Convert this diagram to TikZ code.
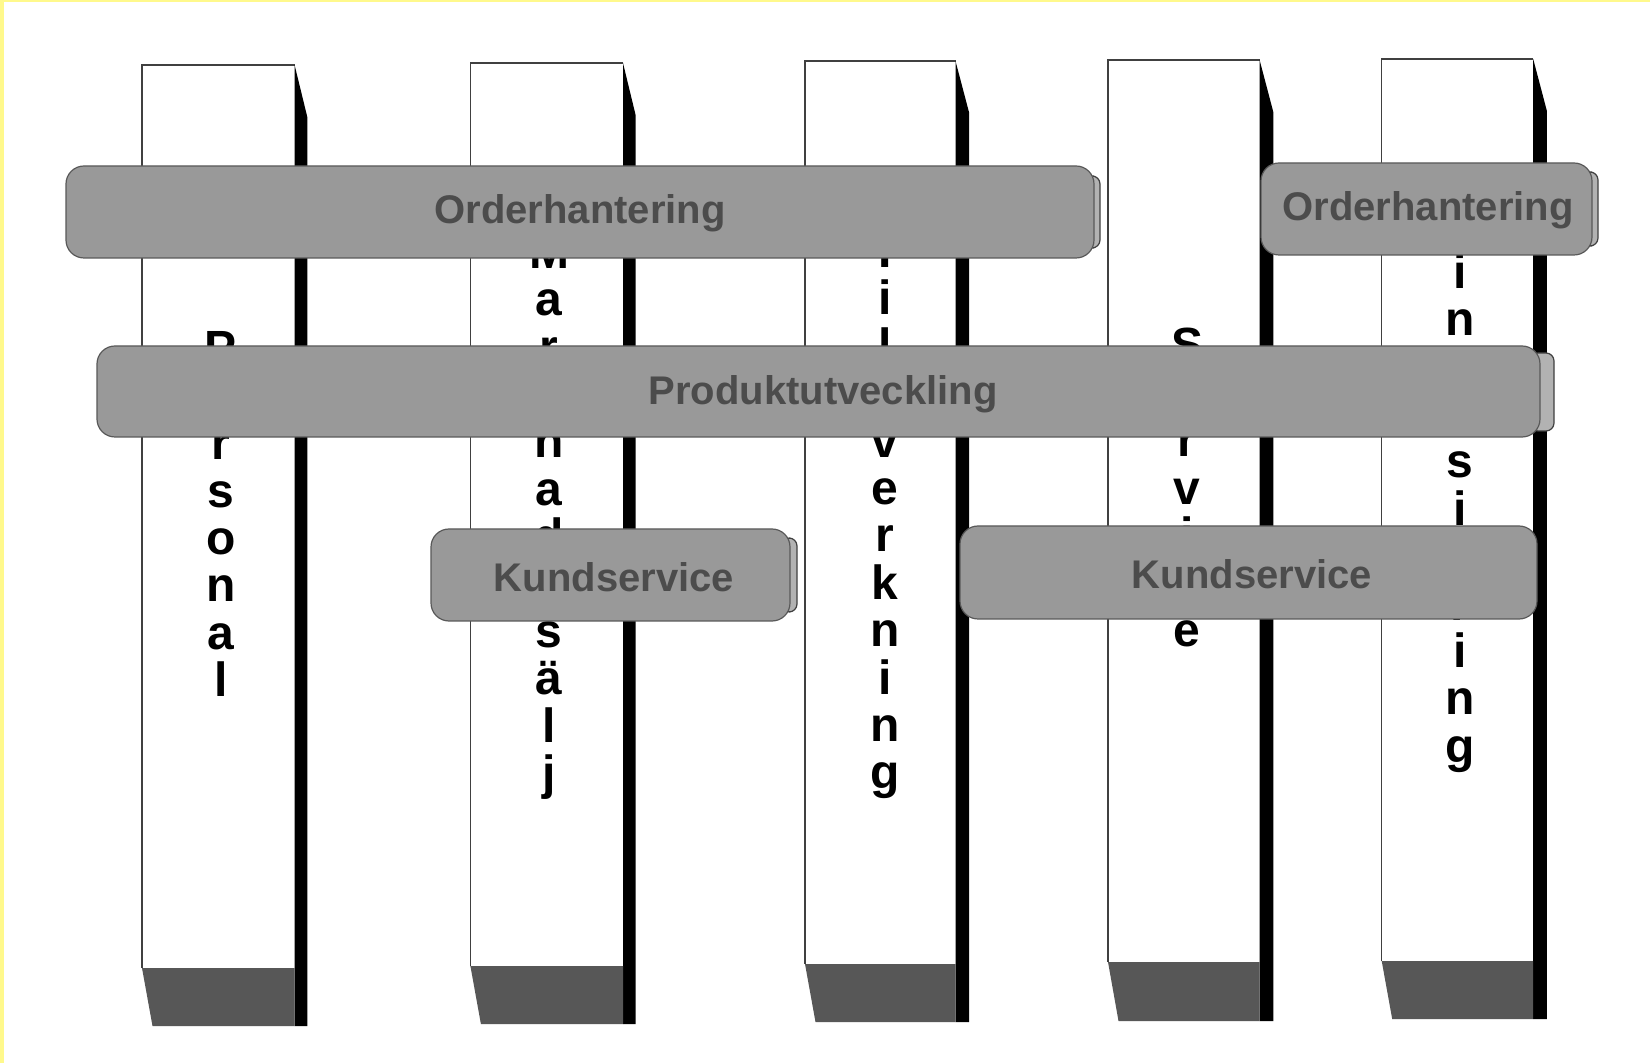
\documentclass[tikz,border=0pt]{standalone}
\usepackage{fontspec}
\setmainfont{Liberation Sans}
\begin{document}
\begin{tikzpicture}[x=0.5pt,y=-0.5pt,
  faceedge/.style={draw=black!75,line width=0.6pt},
  pillarside/.style={fill=black},
  pillarbase/.style={fill=black!66},
  band/.style={draw=black!65,line width=0.6pt,fill=black!40,rounded corners=9pt},
  bandcap/.style={draw=black!75,line width=0.6pt,fill=black!30,rounded corners=4pt},
  bandlabel/.style={font=\fontsize{20}{24}\selectfont\bfseries,text=black!70,inner sep=0pt},
  letter/.style={font=\fontsize{24}{24}\selectfont\bfseries,anchor=base,inner sep=0pt}
]
% page with a pale yellow rim on the top and left
\fill[yellow!45] (0,0) rectangle (1650,1063);
\fill[white] (4,2) rectangle (1650,1063);
\useasboundingbox (0,0) rectangle (1650,1063);

% pillars: left, front right, side right, top, base top, base bottom
\foreach \L/\R/\S/\T/\BT/\BB in {
  142/294.6/307.3/65/968/1026,
  470.4/623/635.6/63/966/1024,
  805/955.5/969.2/61/964/1022,
  1108/1259.6/1273.3/60/962/1021,
  1381.7/1533.2/1546.9/59/961/1019}{
  \fill[white] (\L,\T) rectangle (\R,\BT);
  \draw[faceedge] (\L,\BT) -- (\L,\T) -- (\R,\T);
  \fill[pillarside] (\R,\T) -- (\S,{\T+52}) -- (\S,\BB) -- (\R,\BB) -- cycle;
  \fill[pillarbase] (\L,\BT) -- (\R,\BT) -- (\R,\BB) -- ({\L+10.5},\BB) -- cycle;
}

% vertical pillar titles
\foreach \ch [count=\k from 0] in {P,e,r,s,o,n,a,l}
  \node[letter] (personal-\k) at (221,{365+\k*47.4}) {\ch};
\foreach \ch [count=\k from 0] in {M,a,r,k,n,a,d,/,s,ä,l,j}
  \node[letter] (marknad-\k) at (549,{268.3+\k*47.4}) {\ch};
\foreach \ch [count=\k from 0] in {T,i,l,l,v,e,r,k,n,i,n,g}
  \node[letter] (tillverkning-\k) at (885,{267.5+\k*47.4}) {\ch};
\foreach \ch [count=\k from 0] in {S,e,r,v,i,c,e}
  \node[letter] (service-\k) at (1187,{362+\k*47.4}) {\ch};
\foreach \ch [count=\k from 0] in {F,i,n,a,n,s,i,e,r,i,n,g}
  \node[letter] (finansiering-\k) at (1460,{241+\k*47.4}) {\ch};

% horizontal process bands
\draw[bandcap] (1086,176) rectangle (1100,248);
\draw[band] (66,166) rectangle (1094,258);
\node[bandlabel] (order1) at (580,213) {Orderhantering};

\draw[bandcap] (1584,172) rectangle (1598,246);
\draw[band] (1261,163) rectangle (1592,255);
\node[bandlabel] (order2) at (1428,210) {Orderhantering};

\draw[bandcap] (1530,353) rectangle (1554,431);
\draw[band] (97,346) rectangle (1540,437);
\node[bandlabel] (produkt) at (823,394) {Produktutveckling};

\draw[bandcap] (782,538) rectangle (797,612);
\draw[band] (431,529) rectangle (790,621);
\node[bandlabel] (kund1) at (614,577) {Kundservice};

\draw[band] (960,526) rectangle (1537,619);
\node[bandlabel] (kund2) at (1252,574) {Kundservice};
\end{tikzpicture}
\end{document}
